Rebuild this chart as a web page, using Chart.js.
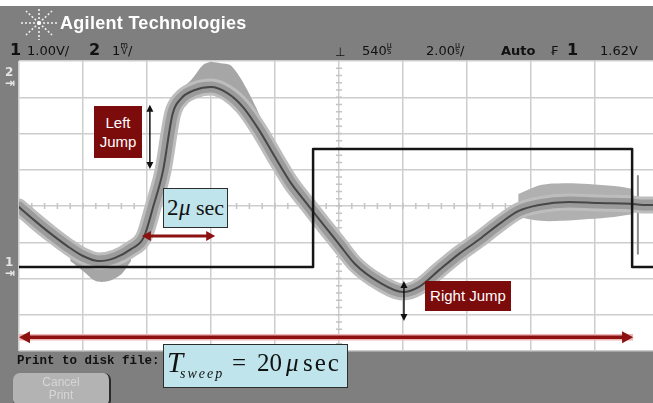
<!DOCTYPE html>
<html>
<head>
<meta charset="utf-8">
<script src="https://cdn.jsdelivr.net/npm/chart.js@4.4.0/dist/chart.umd.min.js"></script>
<style>
  body { margin: 0; background: #fff; }
  #wrap { position: relative; width: 653px; height: 403px; overflow: hidden; background: #7f7f7f; }
  #wrap > * { position: absolute; }
  #topstrip { left: 0; top: 0; width: 653px; height: 6px; background: #fff; }
  #scope { left: 0; top: 0; }
  .brand { left: 60px; top: 13px; color: #fff; font: bold 18px "Liberation Sans", Arial, sans-serif; letter-spacing: 0.3px; }
  .hdr { top: 43px; color: #111; font: 13px "DejaVu Sans", sans-serif; white-space: nowrap; }
  .hdr b { font-size: 16px; }
  .frac { display: inline-block; font-size: 8px; line-height: 6px; vertical-align: 1px; text-align: center; }
  .frac i { display: block; font-style: normal; }
  .chmark { left: 5px; color: #e4e4e4; font: bold 12px "DejaVu Sans", sans-serif; line-height: 11px; }
  .jump { background: #7c0b0b; color: #fff; font: 15px "Liberation Sans Narrow", "Liberation Sans", Arial, sans-serif; text-align: center; }
  .note { background: #c0e4ec; border: 1px solid #2d2d2d; box-sizing: border-box; font-family: "Liberation Serif", "Times New Roman", serif; color: #111; }
  .note span { position: absolute; white-space: nowrap; }
  .print { left: 17px; top: 354px; font: bold 12.5px "Liberation Mono", "DejaVu Sans Mono", monospace; color: #111; }
  .cancel { left: 13px; top: 373px; width: 98px; height: 34px; background: #b3b3b3; border-radius: 7px;
            border-right: 2px solid #2a2a2a; border-bottom: 2px solid #2a2a2a; color: #d6d6d6;
            font: 12px "Liberation Sans", Arial, sans-serif; line-height: 13px; text-align: center; padding-top: 3px; box-sizing: border-box; }
</style>
</head>
<body>
<div id="wrap">
  <canvas id="scope" width="653" height="403"></canvas>
  <div id="topstrip"></div>
  <svg style="left:18px;top:6px" width="42" height="36" viewBox="0 0 42 36">
    <g stroke="#f2f2f2" stroke-width="1.6" stroke-dasharray="2 2" fill="none">
      <line x1="21" y1="17" x2="2" y2="17"/><line x1="21" y1="17" x2="40" y2="17"/>
      <line x1="21" y1="17" x2="21" y2="1"/><line x1="21" y1="17" x2="21" y2="34"/>
      <line x1="21" y1="17" x2="8" y2="5"/><line x1="21" y1="17" x2="34" y2="29"/>
      <line x1="21" y1="17" x2="34" y2="5"/><line x1="21" y1="17" x2="8" y2="29"/>
    </g>
    <circle cx="21" cy="17" r="2" fill="#fff"/>
  </svg>
  <div class="brand">Agilent Technologies</div>

  <div class="hdr" style="left:10px;top:40px"><b>1</b></div>
  <div class="hdr" style="left:27px">1.00V/</div>
  <div class="hdr" style="left:89px;top:40px"><b>2</b></div>
  <div class="hdr" style="left:112px">1<span class="frac"><i>m</i><i>V</i></span>/</div>
  <div class="hdr" style="left:335px;top:45px;font-size:12px">⊥</div>
  <div class="hdr" style="left:362px">540<span class="frac"><i>µ</i><i>s</i></span></div>
  <div class="hdr" style="left:426px">2.00<span class="frac"><i>µ</i><i>s</i></span>/</div>
  <div class="hdr" style="left:501px;font-weight:bold">Auto</div>
  <div class="hdr" style="left:550px">₣</div>
  <div class="hdr" style="left:567px;top:40px"><b>1</b></div>
  <div class="hdr" style="left:600px">1.62V</div>

  <div class="chmark" style="top:67px">2<br>⇥</div>
  <div class="chmark" style="top:257px">1<br>⇥</div>

  <div class="jump" style="left:94px;top:106px;width:48px;height:52px;line-height:19px;padding-top:7px;box-sizing:border-box">Left<br>Jump</div>
  <div class="jump" style="left:425px;top:281px;width:86px;height:30px;line-height:30px">Right Jump</div>

  <div class="note" style="left:163px;top:188px;width:65px;height:40px">
    <span style="left:3px;top:6px;font-size:23px">2</span>
    <span style="left:15px;top:6px;font-size:23px;font-style:italic">μ</span>
    <span style="left:32px;top:6px;font-size:22px">sec</span>
  </div>

  <div class="print">Print to disk file:</div>
  <div class="note" style="left:163px;top:344px;width:185px;height:44px">
    <span style="left:3px;top:1px;font-size:29px;font-style:italic">T</span>
    <span style="left:16px;top:21px;font-size:14px;font-style:italic;letter-spacing:2px">sweep</span>
    <span style="left:68px;top:4px;font-size:25px">=</span>
    <span style="left:93px;top:4px;font-size:25px">20</span>
    <span style="left:122px;top:4px;font-size:25px;font-style:italic">μ</span>
    <span style="left:139px;top:4px;font-size:25px;letter-spacing:2px">sec</span>
  </div>
  <div class="cancel">Cancel<br>Print</div>
</div>

<script>
// time axis in microseconds (2 us/div), vertical axis in divisions
const waveT = [0, 0.5, 1, 1.5, 2, 2.5, 3, 3.5, 3.9, 4.2, 4.5, 4.8, 5.05, 5.5, 6, 6.5, 7, 7.5, 8, 8.5, 9, 9.5, 10, 10.5, 11.25, 12, 12.5, 13.1, 13.75, 14.4, 15, 15.6, 16.25, 17.2, 18.1, 19.1, 19.5, 19.81];
const waveV = [-0.03, -0.41, -0.77, -1.10, -1.38, -1.52, -1.43, -1.19, -0.86, 0.0, 0.97, 2.54, 2.95, 3.20, 3.28, 3.12, 2.73, 2.10, 1.35, 0.63, 0.06, -0.50, -1.05, -1.60, -2.10, -2.37, -2.23, -1.79, -1.32, -0.91, -0.50, -0.14, 0.03, 0.11, 0.08, 0.06, 0.03, 0.03];

// channel 1 square wave
const sqT = [0, 9.19, 9.19, 19.16, 19.16, 19.81];
const sqV = [-1.68, -1.68, 1.57, 1.57, -1.68, -1.68];

// wider noise envelopes of channel 2
const peakT = [5.0, 5.4, 5.75, 6.0, 6.3, 6.6, 6.9, 7.2, 7.5, 7.8];
const peakTop = [3.17, 3.50, 3.89, 3.97, 3.94, 3.89, 3.56, 3.09, 2.54, 1.86];
const peakBot = [2.95, 3.17, 3.25, 3.28, 3.23, 3.09, 2.81, 2.45, 2.04, 1.57];
const lowT = [1.6, 2.0, 2.4, 2.8, 3.2, 3.5];
const lowTop = [-1.20, -1.38, -1.50, -1.50, -1.35, -1.19];
const lowBot = [-1.52, -1.79, -2.07, -2.07, -1.88, -1.52];
const plateauT = [15.6, 16.3, 17.0, 17.8, 18.6, 19.2];
const plateauTop = [0.33, 0.58, 0.63, 0.61, 0.55, 0.47];
const plateauBot = [-0.30, -0.41, -0.41, -0.36, -0.30, -0.22];
const glitchT = [19.34, 19.34];
const glitchV = [0.83, -1.32];

// annotation arrows, in axis units
const arrows = [
    { x1: 4.09, y1: 2.79, x2: 4.09, y2: 1.02, color: '#111', width: 1.5, head: 7, half: 3.5 },
    { x1: 12.03, y1: -2.07, x2: 12.03, y2: -3.17, color: '#111', width: 1.5, head: 7, half: 3.5 },
    { x1: 3.84, y1: -0.83, x2: 6.13, y2: -0.83, color: '#8c1111', width: 3, head: 9, half: 5 },
    { x1: 0.0, y1: -3.62, x2: 19.19, y2: -3.62, color: '#8c1111', width: 3.5, head: 11, half: 6, glow: '#efb5b5' }
];

const pts = (xs, ys) => xs.map((x, i) => ({ x: x, y: ys[i] }));

function drawArrow(ctx, a, b, c) {
    const ang = Math.atan2(c.y - a.y, c.x - a.x);
    ctx.save();
    if (b.glow) {
        ctx.strokeStyle = b.glow;
        ctx.lineWidth = b.width + 3;
        ctx.beginPath(); ctx.moveTo(a.x, a.y); ctx.lineTo(c.x, c.y); ctx.stroke();
    }
    ctx.strokeStyle = b.color;
    ctx.fillStyle = b.color;
    ctx.lineWidth = b.width;
    ctx.beginPath();
    ctx.moveTo(a.x + Math.cos(ang) * b.head * 0.6, a.y + Math.sin(ang) * b.head * 0.6);
    ctx.lineTo(c.x - Math.cos(ang) * b.head * 0.6, c.y - Math.sin(ang) * b.head * 0.6);
    ctx.stroke();
    [[a, ang], [c, ang + Math.PI]].forEach(([p, d]) => {
        ctx.beginPath();
        ctx.moveTo(p.x, p.y);
        ctx.lineTo(p.x + Math.cos(d) * b.head - Math.sin(d) * b.half, p.y + Math.sin(d) * b.head + Math.cos(d) * b.half);
        ctx.lineTo(p.x + Math.cos(d) * b.head + Math.sin(d) * b.half, p.y + Math.sin(d) * b.head - Math.cos(d) * b.half);
        ctx.closePath();
        ctx.fill();
    });
    ctx.restore();
}

const scopePlugin = {
    id: 'scope',
    beforeDraw(chart) {
        const { ctx, chartArea: ca } = chart;
        ctx.save();
        ctx.fillStyle = '#ffffff';
        ctx.fillRect(ca.left, ca.top, ca.right - ca.left, ca.bottom - ca.top);
        ctx.restore();
    },
    beforeDatasetsDraw(chart) {
        // minor ticks on the centre cross
        const { ctx, scales } = chart;
        const x = scales.x, y = scales.y;
        const cx = x.getPixelForValue(10), cy = y.getPixelForValue(0);
        ctx.save();
        ctx.strokeStyle = '#c4c4c4';
        ctx.lineWidth = 1.5;
        ctx.beginPath();
        for (let t = 0; t <= 20; t += 0.4) {
            const px = x.getPixelForValue(t);
            ctx.moveTo(px, cy - 3); ctx.lineTo(px, cy + 3);
        }
        for (let v = -4; v <= 4; v += 0.2) {
            const py = y.getPixelForValue(v);
            ctx.moveTo(cx - 3, py); ctx.lineTo(cx + 3, py);
        }
        ctx.stroke();
        ctx.restore();
    },
    afterDraw(chart) {
        const { ctx, scales } = chart;
        arrows.forEach(a => {
            const p1 = { x: scales.x.getPixelForValue(a.x1), y: scales.y.getPixelForValue(a.y1) };
            const p2 = { x: scales.x.getPixelForValue(a.x2), y: scales.y.getPixelForValue(a.y2) };
            drawArrow(ctx, p1, a, p2);
        });
    }
};

const band = '#a6a6a6';
const ctx = document.getElementById('scope').getContext('2d');
new Chart(ctx, {
    type: 'line',
    data: {
        datasets: [
            { label: 'CH1', data: pts(sqT, sqV), borderColor: '#151515', borderWidth: 2.5, tension: 0, order: 0 },
            { label: 'CH2 mean', data: pts(waveT, waveV), borderColor: '#474747', borderWidth: 2, cubicInterpolationMode: 'monotone', order: 1 },
            { label: 'CH2 core', data: pts(waveT, waveV), borderColor: '#9b9b9b', borderWidth: 11, cubicInterpolationMode: 'monotone', order: 2 },
            { label: 'CH2 edge', data: pts(waveT, waveV), borderColor: '#bdbdbd', borderWidth: 17, cubicInterpolationMode: 'monotone', order: 3 },
            { label: 'peak hi', data: pts(peakT, peakTop), borderWidth: 0, fill: '+1', backgroundColor: band, tension: 0.3, order: 4 },
            { label: 'peak lo', data: pts(peakT, peakBot), borderWidth: 0, fill: false, tension: 0.3, order: 5 },
            { label: 'low hi', data: pts(lowT, lowTop), borderWidth: 0, fill: '+1', backgroundColor: band, tension: 0.3, order: 4 },
            { label: 'low lo', data: pts(lowT, lowBot), borderWidth: 0, fill: false, tension: 0.3, order: 5 },
            { label: 'plat hi', data: pts(plateauT, plateauTop), borderWidth: 0, fill: '+1', backgroundColor: '#b0b0b0', tension: 0.3, order: 4 },
            { label: 'plat lo', data: pts(plateauT, plateauBot), borderWidth: 0, fill: false, tension: 0.3, order: 5 },
            { label: 'glitch', data: pts(glitchT, glitchV), borderColor: '#8e8e8e', borderWidth: 2, tension: 0, order: 3 }
        ]
    },
    options: {
        responsive: false,
        animation: false,
        layout: { padding: { left: 19, top: 61, right: 0, bottom: 52 } },
        elements: {
            point: { radius: 0 },
            line: { borderJoinStyle: 'round', borderCapStyle: 'round' }
        },
        plugins: { legend: { display: false }, tooltip: { enabled: false } },
        scales: {
            x: {
                type: 'linear', min: 0, max: 19.8125,
                ticks: { display: false, stepSize: 2, includeBounds: false },
                grid: { color: '#cdcdcd', lineWidth: 1.5, drawTicks: false },
                border: { display: false }
            },
            y: {
                type: 'linear', min: -4, max: 4,
                ticks: { display: false, stepSize: 1 },
                grid: { color: '#cdcdcd', lineWidth: 1.5, drawTicks: false },
                border: { display: false }
            }
        }
    },
    plugins: [scopePlugin]
});
</script>
</body>
</html>
